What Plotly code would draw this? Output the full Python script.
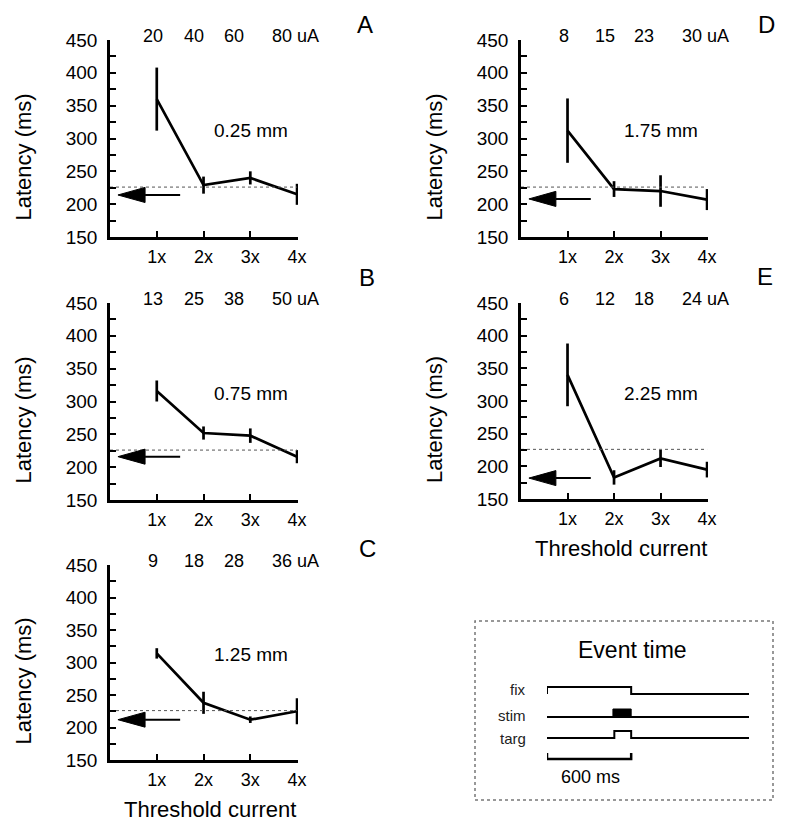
import plotly.graph_objects as go

# the page adds an 8 px body margin, so the figure is drawn 8 px smaller
OFF = 8
W, H = 786 - OFF, 827 - OFF

multipliers = [1, 2, 3, 4]
multiplier_labels = ["1x", "2x", "3x", "4x"]

# panel A - 0.25 mm
currents_a = ["20", "40", "60", "80 uA"]
latency_a = [360, 229, 240, 215]
error_a = [48, 13, 10, 16]
# panel B - 0.75 mm
currents_b = ["13", "25", "38", "50 uA"]
latency_b = [316, 252, 248, 216]
error_b = [16, 10, 11, 10]
# panel C - 1.25 mm
currents_c = ["9", "18", "28", "36 uA"]
latency_c = [314, 238, 212, 225]
error_c = [8, 17, 5, 20]
# panel D - 1.75 mm
currents_d = ["8", "15", "23", "30 uA"]
latency_d = [312, 223, 220, 207]
error_d = [49, 12, 24, 16]
# panel E - 2.25 mm
currents_e = ["6", "12", "18", "24 uA"]
latency_e = [340, 183, 212, 195]
error_e = [48, 11, 13, 12]

# arrow = latency of visually guided saccade, dotted line = reference
arrow_latency = [214, 216, 212, 208, 182]
baseline_latency = 226

# event time schematic (ms)
fix_time = [0, 0, 600, 600, 1440]
fix_level = [0, 1, 1, 0, 0]
stim_time = [0, 1440]
stim_on = [470, 600]
targ_time = [0, 480, 480, 600, 600, 1440]
targ_level = [0, 0, 1, 1, 0, 0]
scale_time = [0, 0, 600, 600]

FONT = "Liberation Sans, Arial, sans-serif"


def px_x(x):
    return (x - OFF) / W


def px_y(y):
    return 1 - (y - OFF) / H


def text(x, y, s, size, **kw):
    d = dict(x=x, y=y, xref="paper", yref="paper", text=s, showarrow=False,
             xanchor="center", yanchor="middle",
             font=dict(family=FONT, size=size, color="black"))
    d.update(kw)
    return d


panels = [
    dict(letter="A", depth="0.25 mm", cur=currents_a, lat=latency_a, err=error_a,
         box=(110, 298, 40, 237), letter_pos=(365, 24), xtitle=False),
    dict(letter="B", depth="0.75 mm", cur=currents_b, lat=latency_b, err=error_b,
         box=(110, 298, 303, 500), letter_pos=(367, 278), xtitle=False),
    dict(letter="C", depth="1.25 mm", cur=currents_c, lat=latency_c, err=error_c,
         box=(110, 298, 565, 760), letter_pos=(367, 548), xtitle=True),
    dict(letter="D", depth="1.75 mm", cur=currents_d, lat=latency_d, err=error_d,
         box=(521, 708, 40, 237), letter_pos=(766, 24), xtitle=False),
    dict(letter="E", depth="2.25 mm", cur=currents_e, lat=latency_e, err=error_e,
         box=(521, 708, 303, 499), letter_pos=(765, 277), xtitle=True),
]

label_x = [0.92, 1.8, 2.65, 3.97]
ytick_vals = list(range(150, 451, 25))
ytick_text = [str(v) if v % 50 == 0 else "" for v in ytick_vals]

fig = go.Figure()
shapes = []
annotations = []

for i, p in enumerate(panels):
    n = "" if i == 0 else str(i + 1)
    xa, ya = "x" + n, "y" + n
    x0, x1, y0, y1 = p["box"]

    fig.add_trace(go.Scatter(
        x=multipliers, y=p["lat"], xaxis=xa, yaxis=ya, mode="lines",
        line=dict(color="black", width=2.7), cliponaxis=False,
        error_y=dict(type="data", array=p["err"], visible=True,
                     color="black", thickness=2.7, width=0),
        showlegend=False))

    # dotted reference line
    fig.add_trace(go.Scatter(
        x=[0, 4], y=[baseline_latency, baseline_latency], xaxis=xa, yaxis=ya,
        mode="lines", line=dict(color="#555555", width=1, dash="3px,3px"),
        showlegend=False))

    # arrow
    a = arrow_latency[i]
    head, head_len, tail = 0.17, 0.58, 1.5
    fig.add_trace(go.Scatter(
        x=[head + head_len, tail], y=[a, a], xaxis=xa, yaxis=ya, mode="lines",
        line=dict(color="black", width=2), showlegend=False))
    fig.add_trace(go.Scatter(
        x=[head, head + head_len, head + head_len, head],
        y=[a, a + 11.5, a - 11.5, a], xaxis=xa, yaxis=ya, mode="lines",
        fill="toself", fillcolor="black", line=dict(color="black", width=1),
        showlegend=False))

    fig.layout["xaxis" + n] = dict(
        domain=[px_x(x0), px_x(x1)], range=[0, 4.02], anchor=ya, automargin=False,
        tickvals=multipliers, ticktext=multiplier_labels,
        ticks="inside", ticklen=6, tickwidth=2, tickcolor="black",
        showline=True, linewidth=2.7, linecolor="black", showgrid=False,
        zeroline=False, ticklabelstandoff=2,
        tickfont=dict(family=FONT, size=18, color="black"))
    fig.layout["yaxis" + n] = dict(
        domain=[px_y(y1), px_y(y0)], range=[150, 450], anchor=xa, automargin=False,
        tickvals=ytick_vals, ticktext=ytick_text,
        ticks="inside", ticklen=6, tickwidth=2, tickcolor="black",
        showline=True, linewidth=2.7, linecolor="black", showgrid=False,
        zeroline=False, ticklabelstandoff=6,
        tickfont=dict(family=FONT, size=19, color="black"))

    # axis titles
    annotations.append(text(px_x(x0 - 87), px_y((y0 + y1) / 2 + 19),
                            "Latency (ms)", 22, textangle=-90))
    if p["xtitle"]:
        annotations.append(text(px_x((x0 + x1) / 2 + 6), px_y(y1 + 49),
                                "Threshold current", 22))

    for lx, txt in zip(label_x, p["cur"]):
        annotations.append(dict(x=lx, y=1.02, xref=xa, yref=ya + " domain",
                                text=txt, showarrow=False,
                                xanchor="center", yanchor="middle",
                                font=dict(family=FONT, size=18, color="black")))
    annotations.append(dict(x=3.02, y=312, xref=xa, yref=ya, text=p["depth"],
                            showarrow=False, xanchor="center", yanchor="middle",
                            font=dict(family=FONT, size=19, color="black")))
    lx, ly = p["letter_pos"]
    annotations.append(text(px_x(lx), px_y(ly), p["letter"], 24))

# event time inset
ev = "6"
line_kw = dict(color="black", width=2)
fix_y = [14 - 7 * v for v in fix_level]
targ_y = [58 - 7 * v for v in targ_level]
fig.add_trace(go.Scatter(x=fix_time, y=fix_y, xaxis="x" + ev, yaxis="y" + ev,
                         mode="lines", line=line_kw, showlegend=False))
fig.add_trace(go.Scatter(x=stim_time, y=[37, 37], xaxis="x" + ev, yaxis="y" + ev,
                         mode="lines", line=line_kw, showlegend=False))
fig.add_trace(go.Scatter(x=[stim_on[0], stim_on[1], stim_on[1], stim_on[0], stim_on[0]],
                         y=[37, 37, 29, 29, 37], xaxis="x" + ev, yaxis="y" + ev,
                         mode="lines", fill="toself", fillcolor="black",
                         line=dict(color="black", width=1), showlegend=False))
fig.add_trace(go.Scatter(x=targ_time, y=targ_y, xaxis="x" + ev, yaxis="y" + ev,
                         mode="lines", line=line_kw, showlegend=False))
fig.add_trace(go.Scatter(x=scale_time, y=[73, 79, 79, 73], xaxis="x" + ev, yaxis="y" + ev,
                         mode="lines", line=dict(color="black", width=2.5),
                         showlegend=False))
fig.layout["xaxis" + ev] = dict(domain=[px_x(547), px_x(749)], range=[0, 1440],
                                anchor="y" + ev, visible=False, automargin=False)
fig.layout["yaxis" + ev] = dict(domain=[px_y(770), px_y(680)], range=[90, 0],
                                anchor="x" + ev, visible=False, automargin=False)

shapes.append(dict(type="rect", xref="paper", yref="paper",
                   x0=px_x(475), x1=px_x(773), y0=px_y(800), y1=px_y(621),
                   line=dict(color="#777777", width=1.5, dash="dot")))
annotations.append(text(px_x(632), px_y(650), "Event time", 23))
for name, yy in [("fix", 9), ("stim", 35), ("targ", 58)]:
    annotations.append(dict(x=px_x(528), y=yy, xref="paper", yref="y" + ev,
                            text=name, showarrow=False, xanchor="right",
                            yanchor="middle",
                            font=dict(family=FONT, size=15, color="#222222")))
annotations.append(text(px_x(590), px_y(777), "600 ms", 18))

fig.update_layout(
    width=W, height=H, margin=dict(l=0, r=0, t=0, b=0),
    paper_bgcolor="white", plot_bgcolor="white",
    font=dict(family=FONT, color="black"),
    shapes=shapes, annotations=annotations, showlegend=False)

fig.write_html("out.html")
